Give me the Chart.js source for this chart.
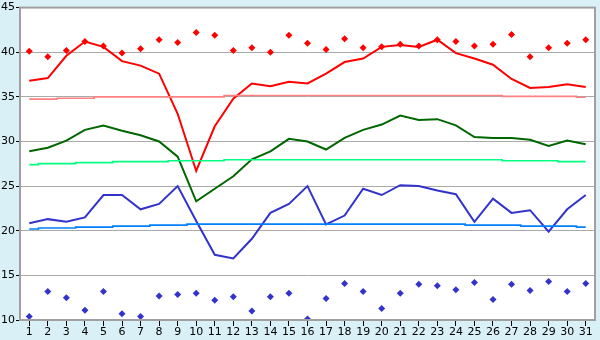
<!DOCTYPE html>
<html>
<head>
<meta charset="utf-8">
<script src="https://cdn.jsdelivr.net/npm/chart.js@4.4.1/dist/chart.umd.min.js"></script>
<style>
  html, body { margin: 0; padding: 0; background: #d9f0f7; }
  #wrap { width: 600px; height: 340px; }
</style>
</head>
<body>
<div id="wrap"><canvas id="mainChart" width="600" height="340"></canvas></div>
<script>
const days = ['1','2','3','4','5','6','7','8','9','10','11','12','13','14','15','16',
              '17','18','19','20','21','22','23','24','25','26','27','28','29','30','31'];

const yTicks = [10, 15, 20, 25, 30, 35, 40, 45];

// daily lines
const maxLine = [36.8, 37.1, 39.6, 41.2, 40.6, 39.0, 38.5, 37.6, 33.1, 26.7, 31.7, 34.8, 36.5, 36.2, 36.7, 36.5,
                 37.6, 38.9, 39.3, 40.6, 40.8, 40.6, 41.4, 39.9, 39.3, 38.6, 37.0, 36.0, 36.1, 36.4, 36.1];
const meanLine = [28.9, 29.3, 30.1, 31.3, 31.8, 31.2, 30.7, 30.0, 28.3, 23.3, 24.7, 26.1, 28.0, 28.9, 30.3, 30.0,
                  29.1, 30.4, 31.3, 31.9, 32.9, 32.4, 32.5, 31.8, 30.5, 30.4, 30.4, 30.2, 29.5, 30.1, 29.7];
const minLine = [20.85, 21.3, 21.0, 21.5, 24.0, 24.0, 22.4, 23.0, 25.0, 21.1, 17.3, 16.9, 19.1, 22.0, 23.0, 25.0,
                 20.7, 21.7, 24.7, 24.0, 25.1, 25.0, 24.5, 24.1, 21.0, 23.6, 22.0, 22.3, 19.9, 22.4, 24.0];

// record points
const highPoints = [40.1, 39.5, 40.2, 41.2, 40.7, 39.9, 40.4, 41.4, 41.1, 42.2, 41.9, 40.2, 40.5, 40.0, 41.9, 41.0,
                    40.3, 41.5, 40.5, 40.6, 40.9, 40.7, 41.4, 41.2, 40.7, 40.9, 42.0, 39.5, 40.5, 41.0, 41.4];
const lowPoints = [10.4, 13.2, 12.5, 11.1, 13.2, 10.7, 10.4, 12.7, 12.85, 13.0, 12.2, 12.6, 11.0, 12.6, 13.0, 10.1,
                   12.4, 14.1, 13.2, 11.3, 13.0, 14.0, 13.85, 13.4, 14.2, 12.3, 14.0, 13.3, 14.3, 13.2, 14.1];

// normals (stepped)
const maxNormal = [34.75, 34.75, 34.85, 34.85, 35.0, 35.0, 35.0, 35.0, 35.0, 35.0, 35.0, 35.15, 35.15, 35.15, 35.15, 35.15,
                   35.15, 35.15, 35.15, 35.15, 35.15, 35.15, 35.15, 35.15, 35.15, 35.15, 35.05, 35.05, 35.05, 35.05, 34.95];
const meanNormal = [27.41, 27.52, 27.52, 27.63, 27.63, 27.74, 27.74, 27.74, 27.85, 27.85, 27.85, 27.96, 27.96, 27.96, 27.96, 27.96,
                    27.96, 27.96, 27.96, 27.96, 27.96, 27.96, 27.96, 27.96, 27.96, 27.96, 27.85, 27.85, 27.85, 27.74, 27.74];
const minNormal = [20.19, 20.3, 20.3, 20.41, 20.41, 20.52, 20.52, 20.63, 20.63, 20.74, 20.74, 20.74, 20.74, 20.74, 20.74, 20.74,
                   20.74, 20.74, 20.74, 20.74, 20.74, 20.74, 20.74, 20.74, 20.63, 20.63, 20.63, 20.52, 20.52, 20.52, 20.41];

const framePlugin = {
    id: 'frame',
    beforeDraw(chart) {
        const { ctx, chartArea: a } = chart;
        ctx.save();
        ctx.fillStyle = '#ffffff';
        ctx.fillRect(a.left, a.top, a.right - a.left, a.bottom - a.top);
        ctx.restore();
    },
    afterDraw(chart) {
        const { ctx, chartArea: a } = chart;
        ctx.save();
        ctx.strokeStyle = '#a0a0a0';
        ctx.lineWidth = 2;
        ctx.strokeRect(a.left, a.top, a.right - a.left, a.bottom - a.top);
        ctx.restore();
    }
};

function normalSet(data, color) {
    return { data: data, borderColor: color, borderWidth: 1.6, stepped: 'middle', pointRadius: 0, fill: false };
}
function lineSet(data, color) {
    return { data: data, borderColor: color, borderWidth: 2, tension: 0, pointRadius: 0, fill: false };
}
function pointSet(data, color) {
    return { data: data, showLine: false, pointStyle: 'rectRot', pointRadius: 3.5,
             pointBackgroundColor: color, pointBorderColor: color, pointBorderWidth: 0, borderColor: color };
}

const ctx = document.getElementById('mainChart').getContext('2d');
new Chart(ctx, {
    type: 'line',
    data: {
        labels: days,
        datasets: [
            normalSet(maxNormal, '#ff8080'),
            normalSet(meanNormal, '#00ff80'),
            normalSet(minNormal, '#0080ff'),
            lineSet(maxLine, '#ff0000'),
            lineSet(meanLine, '#006600'),
            lineSet(minLine, '#3333cc'),
            pointSet(highPoints, '#ff0000'),
            pointSet(lowPoints, '#3333cc')
        ]
    },
    options: {
        responsive: false,
        animation: false,
        layout: { padding: { top: 5, right: 5, left: 0, bottom: 0 } },
        plugins: { legend: { display: false }, tooltip: { enabled: false } },
        scales: {
            x: {
                offset: true,
                afterFit: s => { s.height = 20; },
                grid: { drawOnChartArea: false, drawTicks: true, tickLength: 6, tickColor: '#000', offset: false },
                border: { display: false },
                ticks: { color: '#000', font: { family: 'DejaVu Sans', size: 11 }, padding: 0,
                         maxRotation: 0, autoSkip: false }
            },
            y: {
                min: 10,
                max: 45,
                afterFit: s => { s.width = 20; },
                afterBuildTicks: s => { s.ticks = yTicks.map(v => ({ value: v })); },
                grid: { color: '#aaaaaa', tickLength: 4, tickColor: '#000' },
                border: { display: false },
                ticks: { color: '#000', font: { family: 'DejaVu Sans', size: 11 }, padding: 1 }
            }
        }
    },
    plugins: [framePlugin]
});
</script>
</body>
</html>
